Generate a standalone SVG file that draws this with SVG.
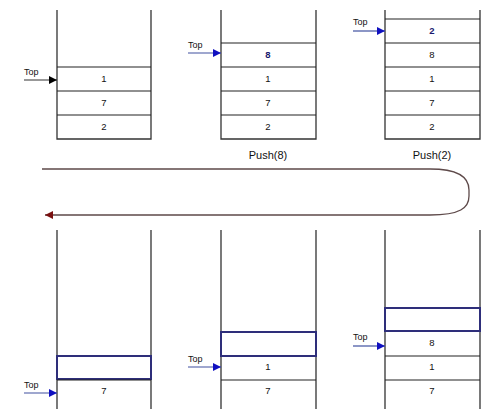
<svg xmlns="http://www.w3.org/2000/svg" width="501" height="409" viewBox="0 0 501 409">
<defs>
<style>
.wall{stroke:#333;stroke-width:1.3;fill:none}
.cell{stroke:#222;stroke-width:1.2;fill:none}
.new{stroke:#2e2e7a;stroke-width:2;fill:none}
.num{font-family:"Liberation Sans",Arial,sans-serif;font-size:9.5px;fill:#111;text-anchor:middle}
.bnum{font-family:"Liberation Sans",Arial,sans-serif;font-size:9.5px;font-weight:bold;fill:#1a1a6e;text-anchor:middle}
.top{font-family:"Liberation Sans",Arial,sans-serif;font-size:9px;fill:#111}
.cap{font-family:"Liberation Sans",Arial,sans-serif;font-size:11px;fill:#111;text-anchor:middle}
.ptrk{stroke:#333;stroke-width:1.2;fill:none}
.ptrb{stroke:#4050a0;stroke-width:1.2;fill:none}
</style>
<marker id="ak" viewBox="0 0 10 10" refX="10" refY="5" markerWidth="12" markerHeight="8" markerUnits="userSpaceOnUse" orient="auto"><path d="M0,0L10,5L0,10z" fill="#000"/></marker>
<marker id="ab" viewBox="0 0 10 10" refX="10" refY="5" markerWidth="12" markerHeight="8" markerUnits="userSpaceOnUse" orient="auto"><path d="M0,0L10,5L0,10z" fill="#1010c0"/></marker>
<marker id="ar" viewBox="0 0 10 10" refX="10" refY="5" markerWidth="12" markerHeight="8" markerUnits="userSpaceOnUse" orient="auto"><path d="M0,0L10,5L0,10z" fill="#7a1010"/></marker>
</defs>

<g id="stack1">
<path class="wall" d="M57,10V139H151V10"/>
<path class="cell" d="M57,67H151M57,91H151M57,115H151"/>
<text class="num" x="104" y="82">1</text>
<text class="num" x="104" y="106">7</text>
<text class="num" x="104" y="130">2</text>
<text class="top" x="24" y="75">Top</text>
<line class="ptrk" x1="24" y1="80" x2="57" y2="80" marker-end="url(#ak)"/>
</g>

<g id="stack2">
<path class="wall" d="M221,10V139H316V10"/>
<path class="cell" d="M221,43H316M221,67H316M221,91H316M221,115H316"/>
<text class="bnum" x="268" y="58">8</text>
<text class="num" x="268" y="82">1</text>
<text class="num" x="268" y="106">7</text>
<text class="num" x="268" y="130">2</text>
<text class="top" x="188" y="48">Top</text>
<line class="ptrb" x1="188" y1="53" x2="221" y2="53" marker-end="url(#ab)"/>
<text class="cap" x="268" y="159">Push(8)</text>
</g>

<g id="stack3">
<path class="wall" d="M385,10V139H480V10"/>
<path class="cell" d="M385,19H480M385,43H480M385,67H480M385,91H480M385,115H480"/>
<text class="bnum" x="432" y="34">2</text>
<text class="num" x="432" y="58">8</text>
<text class="num" x="432" y="82">1</text>
<text class="num" x="432" y="106">7</text>
<text class="num" x="432" y="130">2</text>
<text class="top" x="353" y="25">Top</text>
<line class="ptrb" x1="353" y1="31" x2="385" y2="31" marker-end="url(#ab)"/>
<text class="cap" x="432" y="159">Push(2)</text>
</g>

<g id="connectors">
<path d="M42,169H430C460,169 469,178 469,190V196C469,208 460,215 430,215H45" fill="none" stroke="#5e4a4a" stroke-width="1.3" marker-end="url(#ar)"/>
</g>

<g id="stack4">
<path class="wall" d="M57,230V409M151,230V409"/>
<rect class="new" x="57" y="356" width="94" height="23"/>
<path class="cell" d="M57,380H151"/>
<text class="num" x="104" y="394">7</text>
<text class="top" x="24" y="388">Top</text>
<line class="ptrb" x1="24" y1="393" x2="57" y2="393" marker-end="url(#ab)"/>
</g>

<g id="stack5">
<path class="wall" d="M221,230V409M316,230V409"/>
<rect class="new" x="221" y="332" width="95" height="24"/>
<path class="cell" d="M221,380H316"/>
<text class="num" x="268" y="370">1</text>
<text class="num" x="268" y="394">7</text>
<text class="top" x="188" y="362">Top</text>
<line class="ptrb" x1="188" y1="367" x2="221" y2="367" marker-end="url(#ab)"/>
</g>

<g id="stack6">
<path class="wall" d="M385,230V409M480,230V409"/>
<rect class="new" x="385" y="308" width="95" height="23"/>
<path class="cell" d="M385,356H480M385,380H480"/>
<text class="num" x="432" y="346">8</text>
<text class="num" x="432" y="370">1</text>
<text class="num" x="432" y="394">7</text>
<text class="top" x="353" y="340">Top</text>
<line class="ptrb" x1="353" y1="346" x2="385" y2="346" marker-end="url(#ab)"/>
</g>
</svg>
